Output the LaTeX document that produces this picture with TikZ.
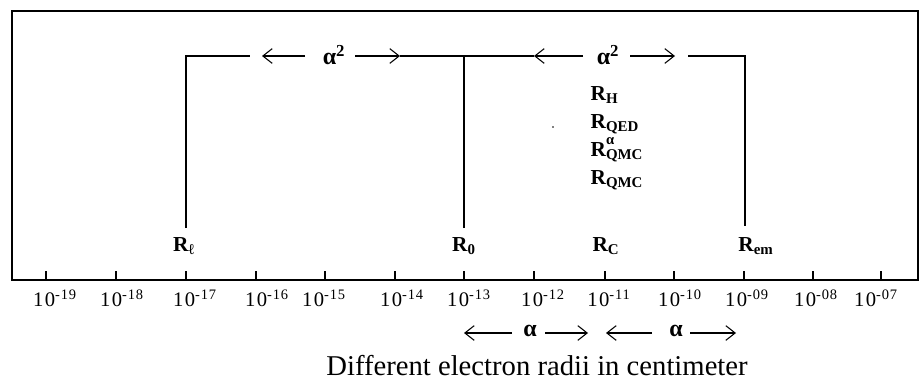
\documentclass[tikz,border=0pt]{standalone}
\usepackage{fontspec}
\setmainfont{Liberation Serif}
\newfontfamily\tickfont[LetterSpace=6]{Liberation Serif}
\usetikzlibrary{arrows.meta}
\begin{document}
\begin{tikzpicture}[x=0.75pt,y=-0.75pt,line width=0.9pt,
  rlab/.style={font=\fontsize{16}{18}\selectfont\bfseries,inner sep=0pt},
  stk/.style={rlab,anchor=base west},
  ticklab/.style={font=\tickfont\fontsize{15.5}{17}\selectfont,anchor=base,inner sep=0pt},
  alab/.style={font=\fontsize{18}{20}\selectfont\bfseries,inner sep=0pt},
  arr/.style={-{Straight Barb[length=7pt,width=11pt]},line width=0.8pt},
  tickmark/.style={line width=0.9pt}]
\useasboundingbox (0,0) rectangle (924,385);
% frame and axis
\draw (12,280) -- (12,11) -- (918,11) -- (918,280) -- cycle;
% ticks and labels
\foreach \x/\lx/\e in {46/55/19,116/122/18,186/195/17,256/267/16,325/324/15,395/402/14,464/469/13,534/543/12,605/609/11,674/680/10,744/747/09,813/816/08,881/876/07}{
  \draw[tickmark] (\x,280) -- (\x,271);
  \node[ticklab] (t\e) at (\lx,306) {10\textsuperscript{-\e}};
}
% radius labels
\node[rlab] (RE) at (184,246) {R\textsubscript{ℓ}};
\node[rlab] (R0) at (464,246) {R\textsubscript{0}};
\node[rlab] (RC) at (606,246) {R\textsubscript{C}};
\node[rlab] (Rem) at (756,246) {R\textsubscript{em}};
\node[stk] (RH) at (590,100) {R\textsubscript{H}};
\node[stk] (RQED) at (590,128) {R\textsubscript{QED}};
\node[stk] (RQMCa) at (590,156) {R\rlap{\raisebox{1.2ex}{\fontsize{11}{11}\selectfont α}}\textsubscript{QMC}};
\node[stk] (RQMC) at (590,184) {R\textsubscript{QMC}};
% bracket corners
\coordinate (cE) at (186,56);
\coordinate (c0) at (464,56);
\coordinate (cm) at (745,56);
\coordinate (bE) at (186,228);
\coordinate (b0) at (464,228);
\coordinate (bm) at (745,226);
\draw (bE) -- (cE) -- (250,56);
\draw (b0) -- (c0);
\draw (400,56) -- (c0) -- (534,56);
\draw (688,56) -- (cm) -- (bm);
% alpha^2 labels
\node[alab] (A1) at (334,55) {α\textsuperscript{2}};
\node[alab] (A2) at (608,55) {α\textsuperscript{2}};
\draw[arr] (305,56) -- (262,56);
\draw[arr] (355,56) -- (400,56);
\draw[arr] (583,56) -- (534,56);
\draw[arr] (630,56) -- (675,56);
% alpha labels below axis
\node[alab] (B1) at (530,331) {α};
\node[alab] (B2) at (676,331) {α};
\draw[arr] (512,333) -- (464,333);
\draw[arr] (545,333) -- (588,333);
\draw[arr] (652,333) -- (606,333);
\draw[arr] (690,333) -- (736,333);
% stray dot
\fill (553,127) circle (0.9);
% caption
\node[font=\fontsize{21.5}{24}\selectfont,inner sep=0pt] (cap) at (537,366) {Different electron radii in centimeter};
\end{tikzpicture}
\end{document}
